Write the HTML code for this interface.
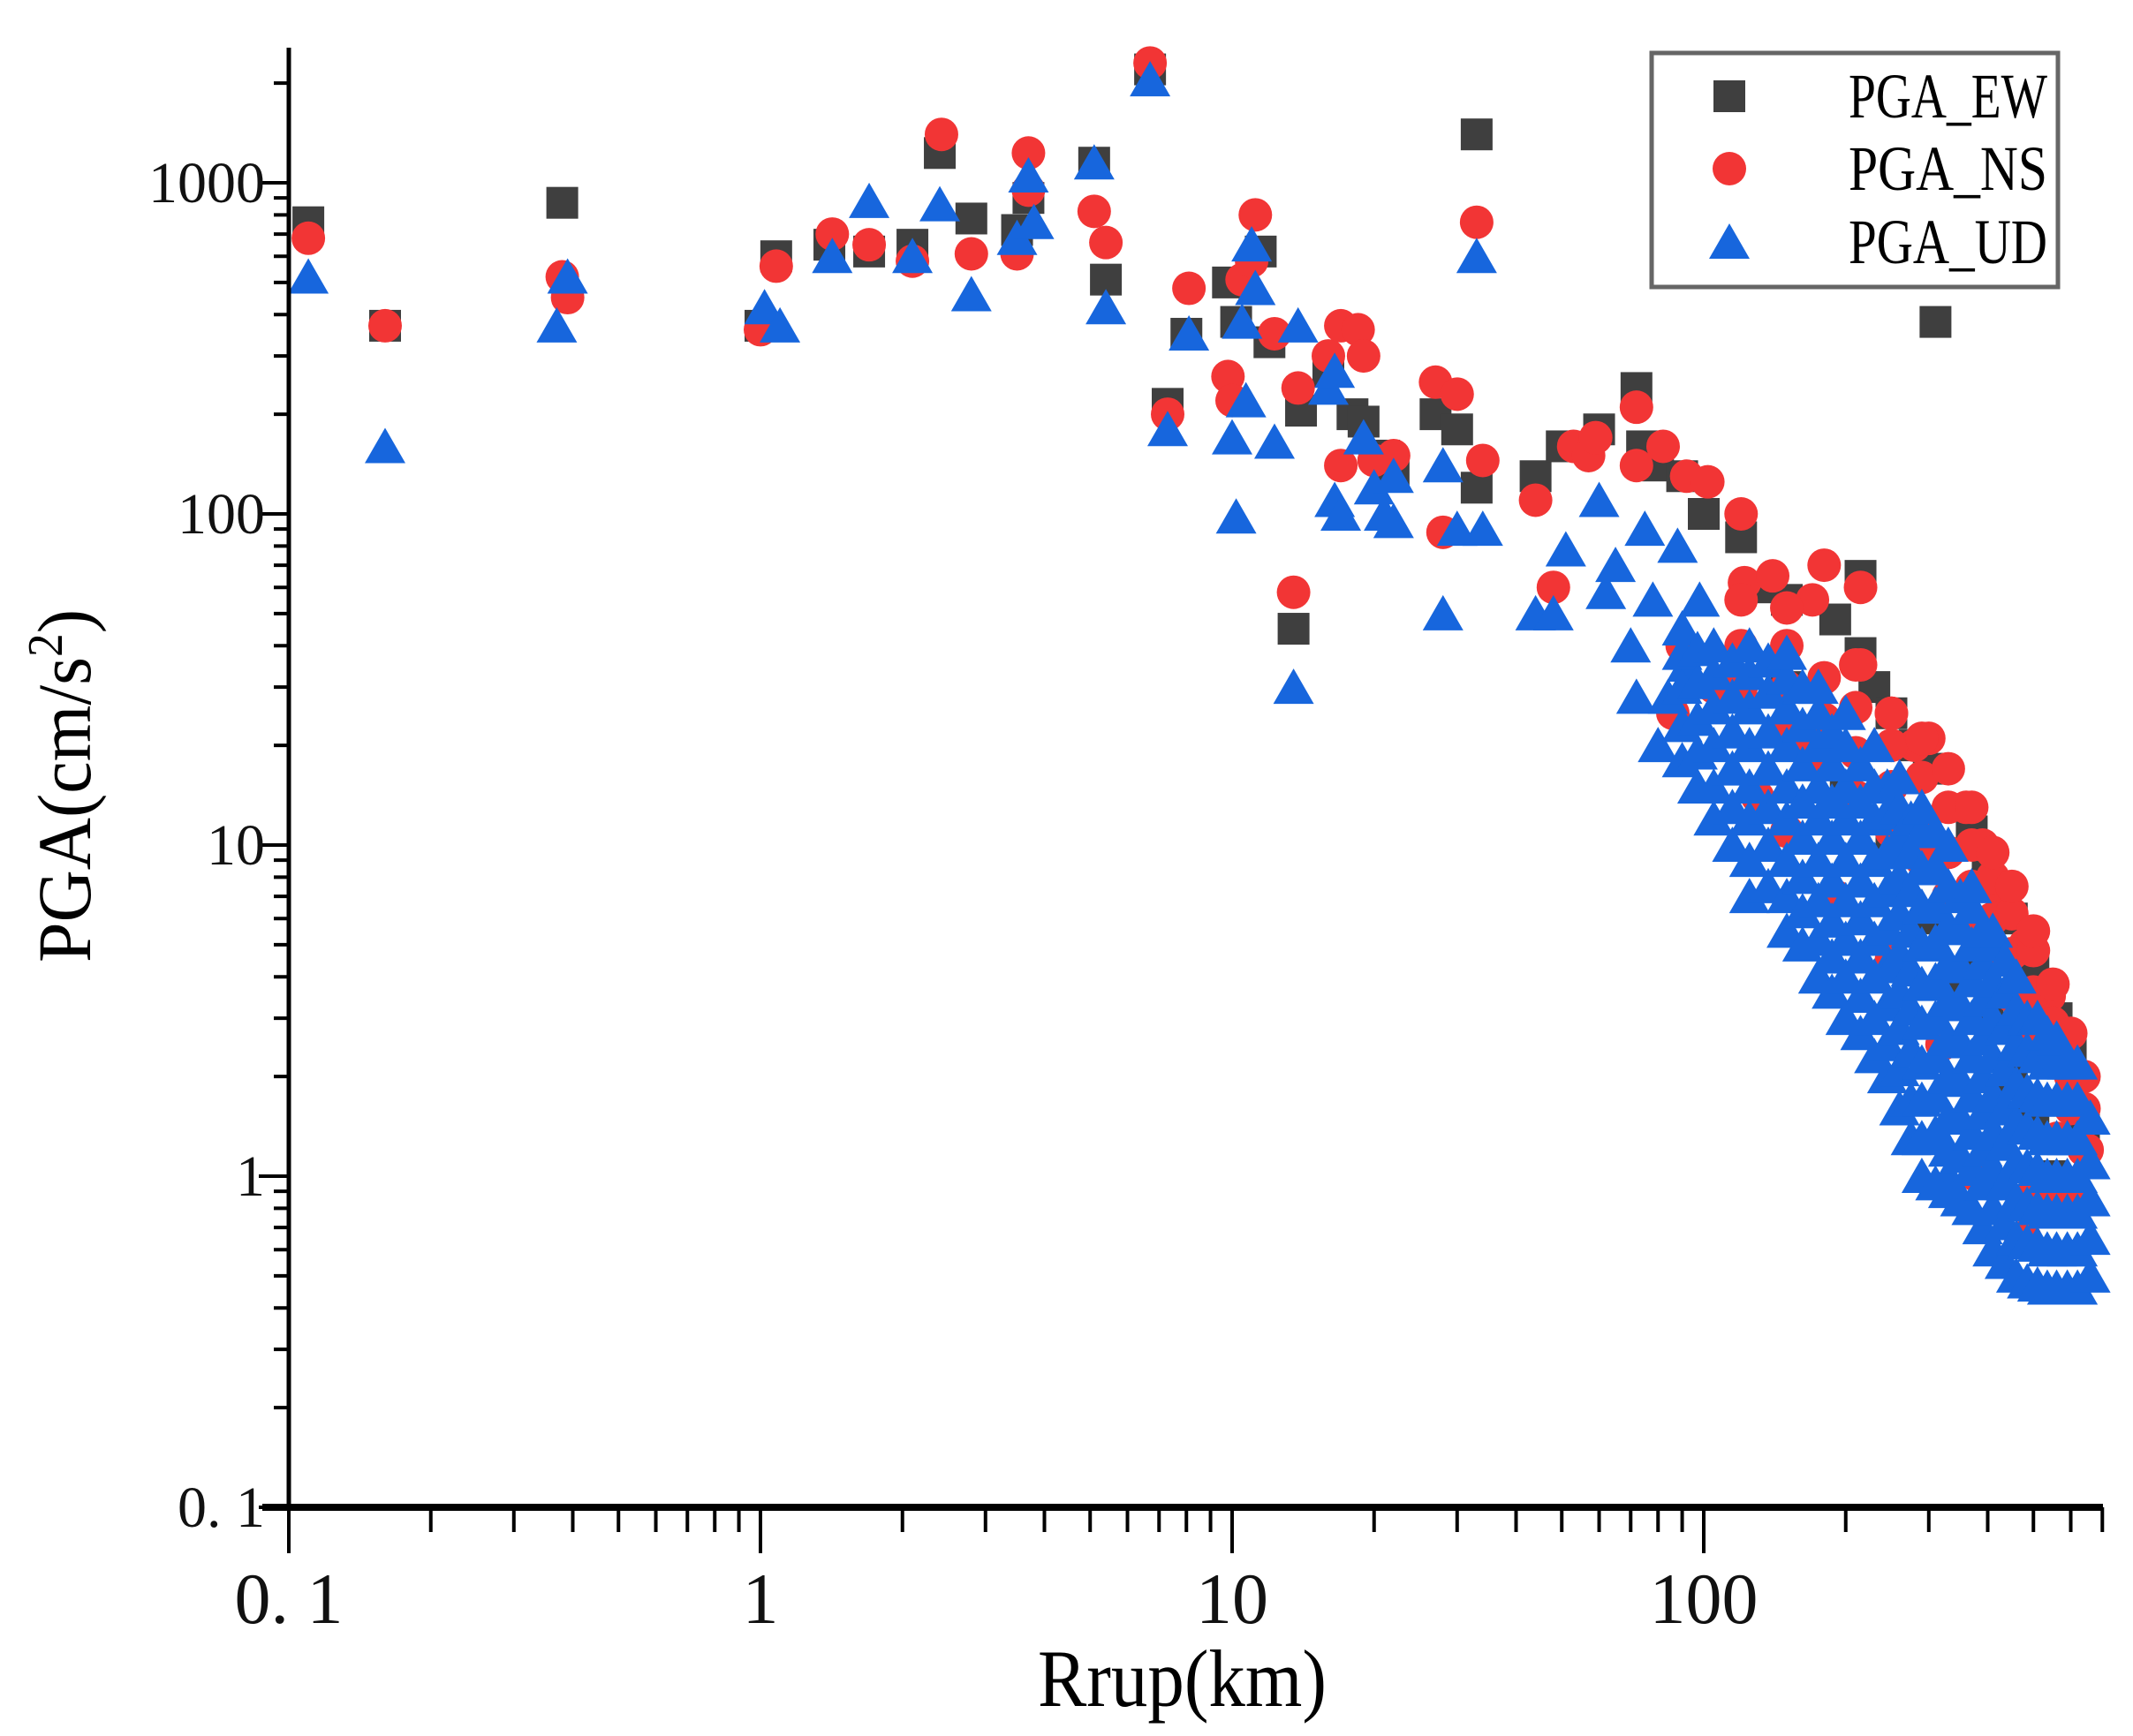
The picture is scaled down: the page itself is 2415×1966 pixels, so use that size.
<!DOCTYPE html>
<html><head><meta charset="utf-8"><style>
html,body{margin:0;padding:0;background:#fff;}
svg{display:block;font-family:"Liberation Serif","Noto Serif CJK SC",serif;}
</style></head><body>
<svg id="chart" width="2415" height="1966" viewBox="0 0 2415 1966" xmlns="http://www.w3.org/2000/svg">
<rect width="2415" height="1966" fill="#fff"/>
<g id="marks"></g>
<g id="axes"></g>
<g id="legend">
  <rect x="1870" y="60" width="460" height="265" fill="#fff" stroke="#666" stroke-width="5"/>
  <rect x="1940" y="91" width="36" height="36" fill="#3f3f3f"/>
  <circle cx="1958" cy="191" r="19" fill="#f23535"/>
  <polygon points="1958,253 1981,293 1935,293" fill="#1766dd"/>
  <text x="2093" y="133" font-size="72" textLength="225" lengthAdjust="spacingAndGlyphs">PGA_EW</text>
  <text x="2093" y="215" font-size="72" textLength="225" lengthAdjust="spacingAndGlyphs">PGA_NS</text>
  <text x="2093" y="298" font-size="72" textLength="225" lengthAdjust="spacingAndGlyphs">PGA_UD</text>
</g>
<text x="1175" y="1932" font-size="92" textLength="327" lengthAdjust="spacingAndGlyphs">Rrup(km)</text>
<text transform="translate(102,1090) rotate(-90)" font-size="86" textLength="400" lengthAdjust="spacingAndGlyphs">PGA(cm/s<tspan font-size="56" dy="-32">2</tspan><tspan dy="32">)</tspan></text>
</svg>
<script>
const xTickValues=[0.1,1,10,100];
const xTickLabels=["0. 1","1","10","100"];
const yTickValues=[0.1,1,10,100,1000];
const yTickLabels=["0. 1","1","10","100","1000"];
const ewX=[0.11,0.38,0.16,1.0,1.08,1.4,1.7,2.1,2.4,2.8,3.5,3.7,5.1,5.4,6.7,7.3,8.0,9.8,10.2,11.5,12,14,13.5,16,18,19,21,22,27,30,33,33,44,50,60,72,74,80,90,100,120,310,130,150,190,215,215,230,250,280,300,370,400,450,500,560,600,640,150,180,200,250,300,350,400,450,500,550];
const ewY=[760,870,370,370,600,650,620,650,1230,780,720,900,1150,510,2200,215,350,500,380,620,330,205,45,270,200,190,150,130,200,180,1400,120,130,160,180,240,160,140,130,100,85,380,60,55,48,65,38,30,25,20,17,11,9,6,4.4,3,2.5,1.4,30,20,15,10,6,4,3,2,1.5,1];
const nsX=[0.11,0.16,0.38,0.39,1.0,1.08,1.42,1.7,2.1,2.42,2.8,3.5,3.7,3.7,5.1,5.4,6.7,7.3,8.1,9.8,10,10.5,11,11.2,12.3,13.5,13.8,16,17,18.5,19,17,20,22,27,28,30,33,34,44,48,53,57,59,72,72,82,92,102,120,122,140,170,180,215,215,250,280,300,360,390,430,480,540,580,600,560,500,470,380,320,250,190,150,160,130,86,90,105,120,
120,120,120,150,150,150,150,180,180,180,210,210,210,210,250,250,250,250,290,290,290,290,330,330,330,330,370,370,370,370,410,410,410,410,450,450,450,450,500,500,500,500,550,550,550,600,600,600,640,640,640,480,560,620,650];
const nsY=[680,370,520,450,360,560,700,650,580,1400,610,610,1230,950,820,660,2300,200,480,260,220,510,580,800,350,58,240,300,370,360,300,140,145,150,250,88,230,760,145,110,60,160,150,170,210,140,160,130,125,100,62,65,55,70,60,35,25,20,21,13,10,7,5,3.5,2.6,2,1.3,0.9,0.65,1.0,2.5,4.5,7,11,20,14,25,40,30,28,
30,40,55,22,30,40,52,18,24,32,14,19,26,35,11,15,20,25,9,12,16,21,7,9.5,13,17,5.5,7.5,10,13,4.5,6,8,9.5,3.5,4.7,6.2,7.5,2.7,3.6,4.8,5.5,2.2,2.9,3.8,1.6,2.1,2.7,1.2,1.6,2.0,0.65,0.9,0.9,1.2];
const udX=[0.11,0.16,0.37,0.39,1.02,1.1,1.42,1.7,2.1,2.4,2.8,3.5,3.7,3.8,5.1,5.4,6.7,7.3,8.1,10,10.2,10.5,10.7,11,11.2,12.3,13.8,13.5,16,16.5,16.5,17,19,20,21,22,22,28,28,30,33,34,44,48,51,60,62,65,70,72,75,78,80,84,88,92,98,330,
90,90,90,90,90,
97,97,97,97,97,
105,105,105,105,105,105,
115,115,115,115,115,115,
125,125,125,125,125,125,125,125,
137,137,137,137,137,137,137,
150,150,150,150,150,150,150,150,150,
162,162,162,162,162,162,162,162,
175,175,175,175,175,175,175,175,175,
187,187,187,187,187,187,187,187,
200,200,200,200,200,200,200,200,200,
215,215,215,215,215,215,215,215,
230,230,230,230,230,230,230,230,230,
245,245,245,245,245,245,245,245,245,
260,260,260,260,260,260,260,260,260,260,
275,275,275,275,275,275,275,275,275,
290,290,290,290,290,290,290,290,290,290,290,
310,310,310,310,310,310,310,310,310,310,
330,330,330,330,330,330,330,330,330,330,
350,350,350,350,350,350,350,350,350,
370,370,370,370,370,370,370,370,370,370,
390,390,390,390,390,390,390,390,390,
410,410,410,410,410,410,410,410,410,410,
435,435,435,435,435,435,435,435,435,
460,460,460,460,460,460,460,460,460,
485,485,485,485,485,485,485,485,
510,510,510,510,510,510,510,510,
535,535,535,535,535,535,535,535,
560,560,560,560,560,560,560,560,
590,590,590,590,590,590,590,
620,620,620,620,620,620,620,
660,660,660,660,660];
const udY=[520,160,370,520,420,370,600,880,600,860,460,680,1050,760,1150,420,2050,180,350,170,98,380,220,650,480,165,370,30,240,270,110,100,170,120,100,130,95,140,50,90,600,90,50,50,78,110,58,70,40,28,90,55,20,28,80,35,55,1.0,
18,23,30,38,45,
15,19,24,31,39,
12,15,20,26,33,40,
10,13,17,22,28,36,
7,9,12,15,20,26,33,40,
7.5,10,13,17,22,29,36,
5.5,7,9,12,15,20,26,32,38,
5,6.3,8,10.5,13.5,17.5,23,30,
4,5.2,6.8,9,12,15,20,25,30,
3.6,4.6,5.9,7.8,10.5,13.5,17.5,22,
3,4,5.2,6.8,9,12,15,20,25,
2.7,3.5,4.6,6,7.8,10.5,13.5,17.5,
2.3,3,4,5.2,6.8,9,12,15,20,
2,2.5,3.3,4.3,5.6,7.3,9.5,12.5,15,
1.6,2.1,2.8,3.6,4.7,6.2,8,10.5,13,16,
1.3,1.7,2.4,3.2,4.2,5.5,7.3,9.5,12,
1.0,1.3,1.7,2.2,2.9,3.8,5,6.5,8.5,11,13,
0.95,1.35,1.75,2.3,3,3.9,5.1,6.6,8.6,11,
0.9,1.2,1.5,2,2.6,3.4,4.4,5.7,7.5,10,
0.85,1.15,1.5,1.95,2.55,3.3,4.3,5.6,7,
0.8,1.05,1.35,1.75,2.3,3,3.9,5,6.5,7.5,
0.7,0.95,1.2,1.55,2,2.6,3.4,4.4,5.5,
0.6,0.8,1.05,1.35,1.75,2.3,3,3.9,5,5.5,
0.55,0.72,0.95,1.25,1.6,2.1,2.8,3.6,4.5,
0.5,0.65,0.85,1.1,1.45,1.9,2.5,3.2,4,
0.48,0.63,0.82,1.07,1.4,1.8,2.4,3,
0.47,0.62,0.8,1.05,1.35,1.75,2.3,3,
0.46,0.6,0.78,1,1.3,1.7,2.2,2.7,
0.46,0.6,0.78,1,1.3,1.7,2.2,2.6,
0.46,0.6,0.78,1,1.3,1.7,2.2,
0.46,0.6,0.78,1,1.3,1.7,2.2,
0.5,0.65,0.85,1.1,1.5];

const X0=327, XDEC=534, Y0=1707, YDEC=375, XEND=2381, YTOP=54;
function sx(v){return X0+(Math.log10(v)+1)*XDEC;}
function sy(v){return Y0-(Math.log10(v)+1)*YDEC;}
const NS='http://www.w3.org/2000/svg';
function mk(tag,attrs,parent){const e=document.createElementNS(NS,tag);for(const k in attrs)e.setAttribute(k,attrs[k]);parent.appendChild(e);return e;}
const marks=document.getElementById('marks');
const gEW=mk('g',{},marks);


ewX.forEach((x,i)=>{const cx=sx(x),cy=sy(ewY[i]);
  const r=mk('rect',{x:cx-18,y:cy-18,width:36,height:36,fill:'#3f3f3f'},gEW);
  
  });
const gNS=mk('g',{},marks);


nsX.forEach((x,i)=>{const c=mk('circle',{cx:sx(x),cy:sy(nsY[i]),r:19,fill:'#f23535'},gNS);
  
  });
const gUD=mk('g',{},marks);


udX.forEach((x,i)=>{const cx=sx(x),cy=sy(udY[i]);
  const p=mk('polygon',{points:`${cx},${cy-21} ${cx+23},${cy+19} ${cx-23},${cy+19}`,fill:'#1766dd'},gUD);
  
  });
const axes=document.getElementById('axes');
const yl=mk('line',{x1:X0,y1:YTOP,x2:X0,y2:Y0+3,stroke:'#000','stroke-width':5},axes);


const xl=mk('line',{x1:X0-30,y1:Y0,x2:XEND,y2:Y0,stroke:'#000','stroke-width':8},axes);


for(let d=-1;d<=2;d++){for(let m=1;m<=9;m++){const v=m*Math.pow(10,d);const x=sx(v);if(x>XEND+1)continue;
  const t=mk('line',{x1:x,y1:Y0,x2:x,y2:Y0+(m===1?52:28),stroke:'#000','stroke-width':4},axes);
  
  }}
for(let d=-1;d<=3;d++){for(let m=1;m<=9;m++){const v=m*Math.pow(10,d);const y=sy(v);if(y<YTOP)continue;
  const t=mk('line',{x1:X0,y1:y,x2:X0-(m===1?34:17),y2:y,stroke:'#000','stroke-width':4},axes);
  
  }}
xTickValues.forEach((v,i)=>{const t=mk('text',{x:sx(v),y:1838,'font-size':82,'text-anchor':'middle',fill:'#111'},axes);
  t.textContent=xTickLabels[i];
  
  });
yTickValues.forEach((v,i)=>{const t=mk('text',{x:300,y:sy(v)+22,'font-size':66,'text-anchor':'end',fill:'#111'},axes);
  t.textContent=yTickLabels[i];
  
  });
</script>
</body></html>
